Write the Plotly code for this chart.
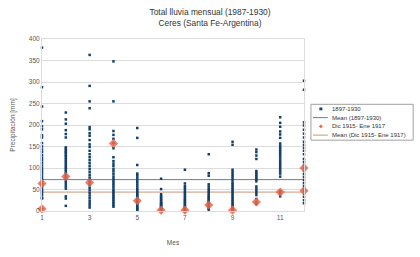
import plotly.graph_objects as go

# ---- data (mm) ----
months = [1, 2, 3, 4, 5, 6, 7, 8, 9, 10, 11, 12]
m01 = [380, 288, 243, 209, 197, 190, 176, 171, 158, 150, 143, 137, 130, 124, 118, 112, 106, 100, 95, 90, 85, 80, 75, 70, 64, 60, 55, 50, 46, 42, 37, 31, 29, 5]
m02 = [229, 213, 203, 188, 179, 171, 148, 145, 141, 138, 135, 131, 128, 124, 120, 116, 112, 108, 104, 100, 96, 92, 88, 84, 80, 76, 72, 67, 62, 57, 52, 34, 29, 12]
m03 = [363, 291, 255, 239, 195, 190, 181, 175, 165, 155, 149, 140, 132, 125, 118, 111, 104, 97, 90, 83, 77, 71, 66, 60, 54, 48, 42, 36, 30, 24, 18, 13, 8]
m04 = [348, 255, 186, 177, 168, 158, 146, 125, 116, 110, 104, 97, 92, 86, 80, 75, 70, 65, 60, 55, 50, 46, 42, 38, 34, 30, 26, 22, 18, 14, 10]
m05 = [193, 170, 107, 87, 83, 78, 73, 68, 62, 57, 52, 48, 44, 40, 37, 34, 31, 28, 25, 22, 19, 16, 13, 10, 7, 4, 2]
m06 = [75, 51, 39, 35, 32, 29, 26, 23, 20, 18, 16, 14, 12, 10, 8, 6, 5, 4, 3, 2, 1, 0]
m07 = [96, 64, 58, 54, 49, 44, 40, 36, 32, 28, 25, 22, 19, 16, 13, 10, 8, 6, 4, 2, 1, 0]
m08 = [132, 88, 82, 62, 57, 52, 48, 44, 40, 36, 33, 30, 27, 24, 21, 18, 15, 12, 9, 6, 3]
m09 = [161, 154, 96, 91, 86, 81, 76, 71, 66, 62, 58, 54, 50, 46, 42, 38, 34, 30, 26, 22, 18, 14, 10, 6, 3, 1]
m10 = [143, 137, 129, 121, 93, 89, 85, 81, 77, 73, 69, 57, 52, 47, 42, 37, 28, 21, 16]
m11 = [218, 205, 196, 185, 178, 170, 157, 152, 147, 142, 137, 132, 127, 122, 117, 112, 107, 102, 97, 92, 87, 80, 46, 41, 34]
m12 = [303, 282, 206, 199, 189, 180, 171, 161, 154, 147, 140, 132, 121, 114, 107, 100, 93, 86, 79, 72, 65, 58, 52, 47, 40, 33, 25, 18]
monthly_values = [m01, m02, m03, m04, m05, m06, m07, m08, m09, m10, m11, m12]

# Dic 1915 - Ene 1917
sel_months = [1, 1, 2, 3, 4, 5, 6, 7, 8, 9, 10, 11, 12, 12]
sel_values = [64, 5, 80, 66, 157, 24, 2, 2, 14, 2, 21, 44, 100, 47]

mean_all = 73     # Mean (1897-1930)
mean_sel = 44     # Mean (Dic 1915- Ene 1917)

y_ticks = [0, 50, 100, 150, 200, 250, 300, 350, 400]
x_ticks = [1, 3, 5, 7, 9, 11]

legend_labels = ["1897-1930", "Mean (1897-1930)", "Dic 1915- Ene 1917", "Mean (Dic 1915- Ene 1917)"]

# ---- styles ----
BLUE = "#123f6e"
ORANGE = "#e8664a"
LINE1 = "#5f8099"
LINE2 = "#c99577"
FONT = "Liberation Sans, Arial, sans-serif"

W, H = 420, 257
L, R, T, B = 40, 116, 39, 31
PW, PH = W - L - R, H - T - B

def px(xp):
    return (xp - L) / PW

def py(yp):
    return (H - B - yp) / PH

xs, ys = [], []
for m, vals in zip(months, monthly_values):
    xs += [m] * len(vals)
    ys += vals

fig = go.Figure()
fig.add_trace(go.Scatter(x=[months[0], months[-1]], y=[mean_all, mean_all], mode="lines",
                         line=dict(color=LINE1, width=1), name=legend_labels[1], showlegend=False))
fig.add_trace(go.Scatter(x=[months[0], months[-1]], y=[mean_sel, mean_sel], mode="lines",
                         line=dict(color=LINE2, width=1), name=legend_labels[3], showlegend=False))
fig.add_trace(go.Scatter(x=xs, y=ys, mode="markers", name=legend_labels[0], showlegend=False,
                         marker=dict(symbol="square", size=2.5, color=BLUE, line=dict(width=0)),
                         cliponaxis=False))
fig.add_trace(go.Scatter(x=sel_months, y=sel_values, mode="markers", name=legend_labels[2], showlegend=False,
                         marker=dict(symbol="diamond", size=7, color=ORANGE, opacity=0.85, line=dict(width=0)),
                         cliponaxis=False))

# ---- manual legend (box, symbols, labels) ----
shapes = [dict(type="rect", xref="paper", yref="paper", x0=px(311), x1=px(414), y0=py(149), y1=py(110),
               line=dict(color="#a0a0a0", width=1), fillcolor="white", layer="above")]
item_y = [115, 124.5, 134, 143.5]
shapes.append(dict(type="rect", xref="paper", yref="paper", x0=px(319.5), x1=px(322.5), y0=py(item_y[0] + 1.5), y1=py(item_y[0] - 1.5),
                   line=dict(width=0), fillcolor=BLUE, layer="above"))
shapes.append(dict(type="line", xref="paper", yref="paper", x0=px(313), x1=px(328), y0=py(item_y[1]), y1=py(item_y[1]),
                   line=dict(color=LINE1, width=1), layer="above"))
shapes.append(dict(type="line", xref="paper", yref="paper", x0=px(313), x1=px(328), y0=py(item_y[3]), y1=py(item_y[3]),
                   line=dict(color=LINE2, width=1), layer="above"))
cx, cy = 321, item_y[2]
shapes.append(dict(type="path", xref="paper", yref="paper",
                   path=f"M {px(cx-2)},{py(cy)} L {px(cx)},{py(cy-2)} L {px(cx+2)},{py(cy)} L {px(cx)},{py(cy+2)} Z",
                   line=dict(width=0), fillcolor=ORANGE, layer="above"))

annotations = []
for lab, yy in zip(legend_labels, item_y):
    annotations.append(dict(text=lab, xref="paper", yref="paper", x=px(330), y=py(yy), xanchor="left",
                            yanchor="middle", showarrow=False, font=dict(size=6.0, color="#333333", family=FONT)))

fig.update_layout(
    width=W, height=H,
    margin=dict(l=L, r=R, t=T, b=B),
    paper_bgcolor="white", plot_bgcolor="white",
    font=dict(family=FONT, size=6.5, color="#555555"),
    title=dict(text="Total lluvia mensual (1987-1930)<br>Ceres (Santa Fe-Argentina)",
               x=0.5, xref="container", xanchor="center", y=1 - 15 / H, yref="container", yanchor="top",
               font=dict(size=8.4, color="#333333", family=FONT)),
    shapes=shapes, annotations=annotations, showlegend=False,
    xaxis=dict(range=[1, 12], tickvals=x_ticks, showgrid=False, zeroline=False,
               showline=True, mirror=True, linecolor="#dcdcdc", linewidth=1,
               title=dict(text="Mes", font=dict(size=6.5, color="#555555"), standoff=20),
               tickfont=dict(size=6.5, color="#555555")),
    yaxis=dict(range=[0, 400], tickvals=y_ticks, showgrid=True, gridcolor="#dcdcdc", gridwidth=1,
               zeroline=False, showline=True, mirror=True, linecolor="#dcdcdc", linewidth=1,
               title=dict(text="Precipitación [mm]", font=dict(size=6.5, color="#555555"), standoff=12),
               tickfont=dict(size=6.5, color="#555555")),
)

fig.write_html("out.html", post_script="document.body.style.margin='0';",
               config={"displayModeBar": False})
